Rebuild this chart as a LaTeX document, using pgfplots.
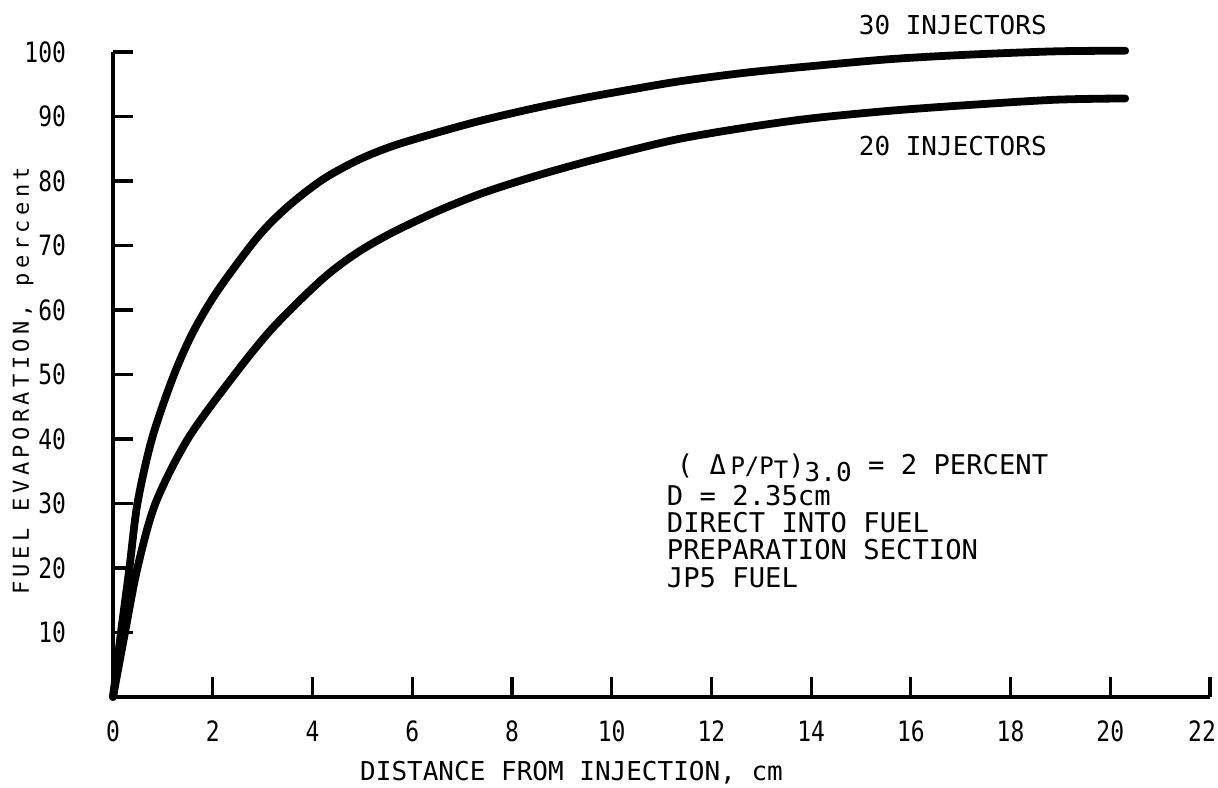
\documentclass[border=0pt]{standalone}
\usepackage{fontspec}
\setmainfont{DejaVu Sans Mono}
\newfontfamily\tickfont[FakeStretch=0.82]{DejaVu Sans Mono}
\newfontfamily\ylabfont[LetterSpace=20]{DejaVu Sans Mono}
\usepackage{pgfplots}
\pgfplotsset{compat=1.18}

% evaporation curves: distance (cm) vs. percent evaporated
\pgfplotstableread{
x      y
0      0
0.16   10
0.33   20
0.49   30
0.78   40
1.2    49.5
1.6    56.5
2.1    63
2.9    71.3
3.5    76
4.2    80.2
4.9    83.2
5.6    85.4
6.5    87.5
7.4    89.4
8.4    91.2
9.4    92.8
10.4   94.2
11.4   95.5
12.7   96.8
14     97.8
15.6   98.9
17.2   99.6
18.9   100.1
20.3   100.2
}\thirty
\pgfplotstableread{
x      y
0      0
0.24   10
0.49   20
0.85   30
1.5    40
2.4    49.6
3.2    57.2
4.2    64.8
4.9    68.9
5.6    72
6.5    75.3
7.4    78.1
8.4    80.6
9.4    82.8
10.4   84.8
11.4   86.6
12.7   88.3
14     89.7
15.6   90.9
17.2   91.8
18.9   92.6
20.3   92.8
}\twenty

\begin{document}
\begin{tikzpicture}[x=1pt,y=1pt]
\path[use as bounding box] (0,0) rectangle (609,393.5);
\begin{axis}[
  at={(56.5pt,45pt)}, anchor=south west,
  scale only axis, width=548.5pt, height=322.5pt,
  xmin=0, xmax=22, ymin=0, ymax=100,
  axis x line=bottom, axis y line=left,
  x axis line style={-}, y axis line style={-},
  axis line style={line width=2pt, black},
  xtick={0,2,...,20}, ytick={10,20,...,100},
  extra x ticks={22},
  extra x tick style={xticklabel style={xshift=-4pt}},
  tick align=inside,
  major tick length=10pt,
  tick style={line width=1.6pt, black},
  /pgf/number format/assume math mode=true,
  ticklabel style={font=\tickfont\fontsize{14}{14}\selectfont},
  xticklabel style={yshift=-8.5pt},
  yticklabel style={xshift=-20pt},
  clip=false,
  xlabel={DISTANCE FROM INJECTION, cm},
  ylabel={\ylabfont FUEL EVAPORATION, percent},
  xlabel style={font=\fontsize{13}{13}\selectfont, at={(axis description cs:0.418,-0.118)}, anchor=center},
  ylabel style={font=\fontsize{11}{11}\selectfont, at={(axis description cs:-0.082,0.49)}, anchor=center},
]
\addplot[black, line width=3.9pt, smooth, tension=0.5, line cap=round] table[x=x, y=y] {\thirty};
\addplot[black, line width=3.9pt, smooth, tension=0.5, line cap=round] table[x=x, y=y] {\twenty};

\node[anchor=west, inner sep=0, font=\fontsize{13}{13}\selectfont] at (axis cs:14.95,104.2) {30 INJECTORS};
\node[anchor=west, inner sep=0, font=\fontsize{13}{13}\selectfont] at (axis cs:14.95,85.4) {20 INJECTORS};

\begin{scope}[every node/.style={anchor=base west, inner sep=0, font=\fontsize{13.6}{13.6}\selectfont}]
\node at (axis cs:11.3,34.5) {(~Δ\,{\fontsize{12}{12}\selectfont P/P\raisebox{-0.3ex}{T}})\raisebox{-0.45ex}{\fontsize{13}{13}\selectfont 3.0} = 2 PERCENT};
\node at (axis cs:11.1,29.7) {D = 2.35cm};
\node at (axis cs:11.1,25.5) {DIRECT INTO FUEL};
\node at (axis cs:11.1,21.3) {PREPARATION SECTION};
\node at (axis cs:11.1,17.0) {JP5 FUEL};
\end{scope}
\end{axis}
\end{tikzpicture}
\end{document}
